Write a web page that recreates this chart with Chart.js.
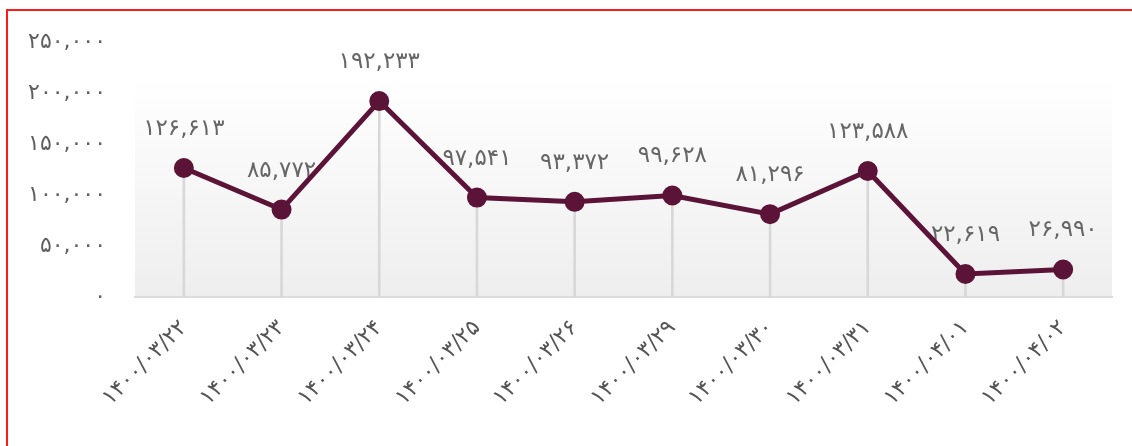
<!DOCTYPE html>
<html>
<head>
<meta charset="utf-8">
<script src="https://cdn.jsdelivr.net/npm/chart.js@4.4.1/dist/chart.umd.min.js"></script>
<style>
  html, body { margin: 0; padding: 0; background: #fff; overflow: hidden; }
  #frame { position: absolute; left: 6px; top: 9px; width: 1140px; height: 450px; border: 2px solid #ff1a1a; }
  #wrap { position: absolute; left: 0; top: 0; width: 1132px; height: 446px; }
</style>
</head>
<body>
<div id="frame"></div>
<div id="wrap"><canvas id="lineChart" width="1132" height="446"></canvas></div>
<script>
const dates = ['۱۴۰۰/۰۳/۲۲', '۱۴۰۰/۰۳/۲۳', '۱۴۰۰/۰۳/۲۴', '۱۴۰۰/۰۳/۲۵', '۱۴۰۰/۰۳/۲۶',
  '۱۴۰۰/۰۳/۲۹', '۱۴۰۰/۰۳/۳۰', '۱۴۰۰/۰۳/۳۱', '۱۴۰۰/۰۴/۰۱', '۱۴۰۰/۰۴/۰۲'];
const values = [126613, 85772, 192233, 97541, 93372, 99628, 81296, 123588, 22619, 26990];
const yTicks = [0, 50000, 100000, 150000, 200000, 250000];

const faDigits = '۰۱۲۳۴۵۶۷۸۹';
const toFa = n => n.toLocaleString('en-US').replace(/\d/g, d => faDigits[d]);

const FONT = '"DejaVu Sans", sans-serif';
const maroon = '#5b1437';

// soft grey gradient behind the plot
const plotBackground = {
  id: 'plotBackground',
  beforeDraw(chart) {
    const { ctx, chartArea: a } = chart;
    const top = chart.scales.y.getPixelForValue(215000);
    const g = ctx.createLinearGradient(0, top, 0, a.bottom);
    g.addColorStop(0, '#ffffff');
    g.addColorStop(1, '#eeeeee');
    ctx.save();
    ctx.fillStyle = g;
    ctx.fillRect(a.left, top, a.right - a.left, a.bottom - top);
    ctx.restore();
  }
};

// value labels above the points, drawn under the line
const valueLabels = {
  id: 'valueLabels',
  beforeDatasetsDraw(chart) {
    const { ctx } = chart;
    const meta = chart.getDatasetMeta(1);
    ctx.save();
    ctx.font = '23px ' + FONT;
    ctx.fillStyle = '#666666';
    ctx.textAlign = 'center';
    ctx.textBaseline = 'middle';
    meta.data.forEach((pt, i) => {
      ctx.fillText(toFa(values[i]), pt.x, pt.y - 39);
    });
    ctx.restore();
  }
};

new Chart('lineChart', {
  data: {
    labels: dates,
    datasets: [
      {
        type: 'bar',
        data: values,
        backgroundColor: '#d8d8d8',
        barThickness: 2,
        order: 2
      },
      {
        type: 'line',
        data: values,
        borderColor: maroon,
        backgroundColor: maroon,
        borderWidth: 5,
        pointRadius: 7.5,
        pointHoverRadius: 7.5,
        tension: 0,
        order: 1
      }
    ]
  },
  options: {
    responsive: false,
    animation: false,
    layout: { padding: { top: 41, right: 20, left: 0, bottom: 0 } },
    plugins: { legend: { display: false }, tooltip: { enabled: false } },
    scales: {
      x: {
        offset: true,
        grid: { display: false, drawTicks: false },
        border: { color: '#dcdcdc', width: 2 },
        ticks: {
          color: '#555555',
          font: { family: FONT, size: 22 },
          minRotation: 45,
          maxRotation: 45,
          padding: 18
        },
        afterFit(scale) { scale.height = 149; }
      },
      y: {
        min: 0,
        max: 250000,
        afterBuildTicks(scale) { scale.ticks = yTicks.map(v => ({ value: v })); },
        grid: { display: false, drawTicks: false },
        border: { display: false },
        ticks: {
          color: '#5f5f5f',
          font: { family: FONT, size: 22 },
          padding: 29,
          callback: v => toFa(v)
        },
        afterFit(scale) { scale.width = 135; }
      }
    }
  },
  plugins: [plotBackground, valueLabels]
});
</script>
</body>
</html>
